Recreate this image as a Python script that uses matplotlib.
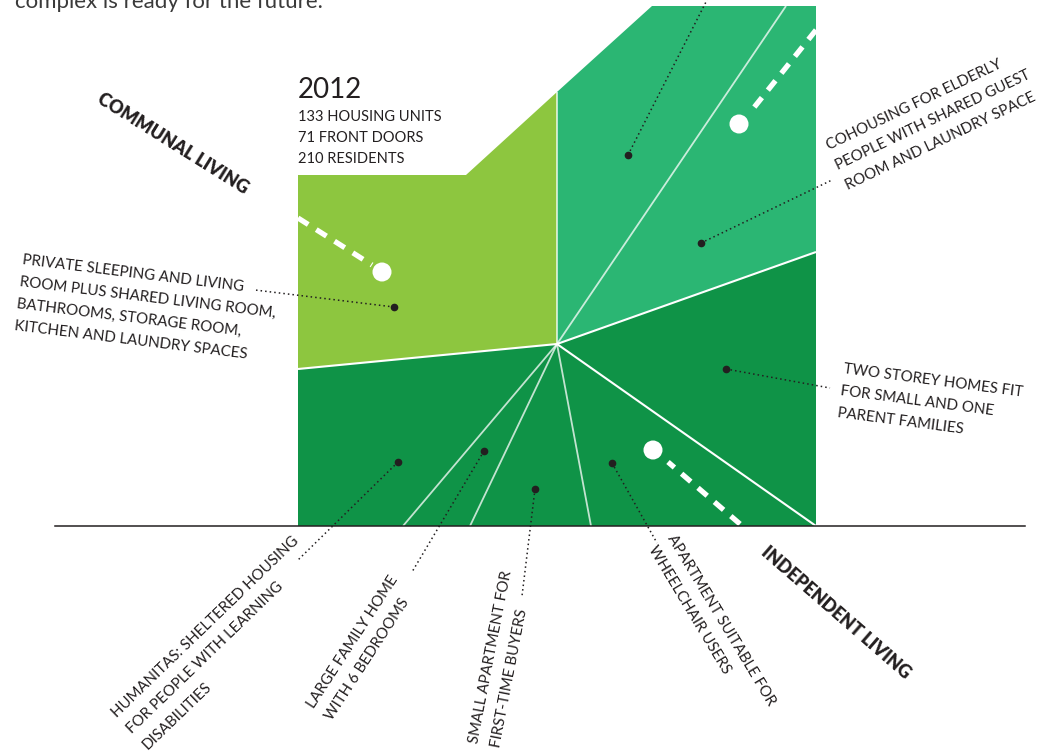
import math
import matplotlib
matplotlib.use('Agg')
import matplotlib.pyplot as plt
from matplotlib.patches import Polygon, Circle

W, H = 1039, 753
FONT = 'Lato'
TXT = '#231f20'

# ---- sectors of the housing diagram -------------------------------------
sector_names = ['communal', 'cohousing', 'independent']
sector_colors = ['#8dc63f', '#2bb673', '#0f9347']
sector_outlines = [
    [(298, 175), (466, 175), (557, 92), (557, 344), (298, 369)],
    [(557, 92), (652, 6), (816, 6), (816, 252), (557, 344)],
    [(298, 369), (557, 344), (816, 252), (816, 526), (298, 526)],
]
hub = (557, 344)
main_spokes = [(298, 369), (816, 252), (816, 526)]
inner_spokes = [(557, 92), (786, 6), (591, 526), (470, 526), (403, 526)]

# ---- white dashed connectors with end circles -----------------------------
dash_starts = [(298, 218), (816, 30), (740, 524)]
dash_ends = [(372, 265), (752, 110), (668, 462)]
dash_circles = [(382, 272), (739, 124), (653, 450)]

# ---- dotted leaders (dot, label end) ---------------------------------------
leader_dots = [(394, 307), (628, 155), (701, 243), (726, 369),
               (398, 462), (484, 451), (535, 489), (612, 463)]
leader_ends = [(255, 290), (708, -2), (832, 180), (830, 388),
               (298, 560), (412, 572), (522, 596), (657, 543)]

# ---- labels -----------------------------------------------------------------
labels = [
    ["PRIVATE SLEEPING AND LIVING", "ROOM PLUS SHARED LIVING ROOM,",
     "BATHROOMS, STORAGE ROOM,", "KITCHEN AND LAUNDRY SPACES"],
    ["COHOUSING FOR ELDERLY", "PEOPLE WITH SHARED GUEST",
     "ROOM AND LAUNDRY SPACE"],
    ["TWO STOREY HOMES FIT", "FOR SMALL AND ONE", "PARENT FAMILIES"],
    ["HUMANITAS: SHELTERED HOUSING", "FOR PEOPLE WITH LEARNING",
     "DISABILITIES"],
    ["LARGE FAMILY HOME", "WITH 6 BEDROOMS"],
    ["SMALL APARTMENT FOR", "FIRST-TIME BUYERS"],
    ["APARTMENT SUITABLE FOR", "WHEELCHAIR USERS"],
]
# baseline start of the first line, rotation (deg)
label_anchor = [(22, 264), (829, 150), (843, 373), (117, 718),
                (314, 709), (478, 744), (667, 538)]
label_rot = [-7, 25.5, -7.5, 44, 57, 79, -59]
LINE_GAP = 22

categories = ["COMMUNAL LIVING", "INDEPENDENT LIVING"]
category_pos = [(173, 144), (836, 613)]
category_rot = [-32, -41]

year = "2012"
stats = ["133 HOUSING UNITS", "71 FRONT DOORS", "210 RESIDENTS"]
intro = "complex is ready for the future."

fig = plt.figure(figsize=(W / 100, H / 100), dpi=100)
ax = fig.add_axes([0, 0, 1, 1])
ax.set_xlim(0, W)
ax.set_ylim(H, 0)
ax.axis('off')

for pts, col in zip(sector_outlines, sector_colors):
    ax.add_patch(Polygon(pts, closed=True, facecolor=col, edgecolor='none', zorder=1))

for e in inner_spokes:
    ax.plot([hub[0], e[0]], [hub[1], e[1]], color='white', alpha=0.75, lw=1.3,
            zorder=2, solid_capstyle='butt')
for e in main_spokes:
    ax.plot([hub[0], e[0]], [hub[1], e[1]], color='white', lw=1.5, zorder=2,
            solid_capstyle='butt')

for s, e, c in zip(dash_starts, dash_ends, dash_circles):
    ax.plot([s[0], e[0]], [s[1], e[1]], color='white', lw=3.8,
            linestyle=(0, (2.3, 1.8)), dash_capstyle='butt', zorder=3)
    ax.add_patch(Circle(c, 9.5, facecolor='white', edgecolor='none', zorder=3))

for d, e in zip(leader_dots, leader_ends):
    ax.plot([d[0], e[0]], [d[1], e[1]], color=TXT, lw=1.1,
            linestyle=(0, (1, 2)), zorder=4)
    ax.plot(d[0], d[1], 'o', color=TXT, ms=4.5, zorder=5)

# baseline
ax.plot([55, 1025], [526, 526], color=TXT, lw=1.1, zorder=6)

for lines, (x, y), r in zip(labels, label_anchor, label_rot):
    px, py = math.sin(math.radians(r)), math.cos(math.radians(r))
    for i, line in enumerate(lines):
        ax.text(x + i * LINE_GAP * px, y + i * LINE_GAP * py, line,
                rotation=r, rotation_mode='anchor', ha='left', va='baseline',
                fontsize=10.8, color=TXT, family=FONT, zorder=7)

for txt, (x, y), r in zip(categories, category_pos, category_rot):
    ax.text(x, y, txt, rotation=r, rotation_mode='anchor', ha='center',
            va='center', fontsize=13, fontweight='heavy', color=TXT,
            family=FONT, zorder=7)

ax.text(298, 98, year, fontsize=20, color=TXT, family=FONT, va='baseline')
for i, s in enumerate(stats):
    ax.text(298, 121 + 21 * i, s, fontsize=10.5, color=TXT, family=FONT,
            va='baseline')

ax.text(15, 8, intro, fontsize=16, color='#3a3a3a', family=FONT, va='baseline')

fig.savefig('out.png', dpi=100)
